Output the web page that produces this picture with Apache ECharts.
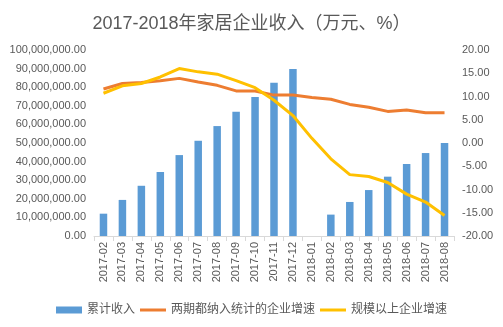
<!DOCTYPE html>
<html>
<head>
<meta charset="utf-8">
<script src="https://cdn.jsdelivr.net/npm/echarts@6/dist/echarts.min.js"></script>
<style>
  html, body { margin: 0; padding: 0; background: #fff; }
  #chart { width: 503px; height: 327px; }
</style>
</head>
<body>
<div id="chart"></div>
<script>
// Monthly categories
var months = ['2017-02','2017-03','2017-04','2017-05','2017-06','2017-07','2017-08','2017-09','2017-10','2017-11','2017-12',
              '2018-01','2018-02','2018-03','2018-04','2018-05','2018-06','2018-07','2018-08'];

// Cumulative revenue (10k CNY); January has no figure
var revenue = [12000000, 19400000, 27000000, 34400000, 43500000, 51200000, 59100000, 66800000, 74700000, 82400000, 89800000,
               null, 11500000, 18300000, 24700000, 31900000, 38700000, 44600000, 50000000];

// Growth of firms counted in both periods (%)
var growthBoth = [11.6, 12.8, 13.0, 13.4, 13.9, 13.1, 12.4, 11.2, 11.2, 10.3, 10.3,
                  9.8, 9.4, 8.3, 7.7, 6.8, 7.1, 6.5, 6.5];

// Growth of firms above designated size (%)
var growthAbove = [10.7, 12.3, 12.8, 14.2, 16.0, 15.3, 14.8, 13.4, 11.9, 9.2, 5.9,
                   1.0, -3.4, -6.8, -7.2, -8.5, -11.0, -12.7, -15.6];

var seriesNames = ['累计收入', '两期都纳入统计的企业增速', '规模以上企业增速'];

var fontFamily = '"Liberation Sans", "Noto Sans CJK SC", sans-serif';
var textColor = '#595959';
var lineIcon = 'path://M0,0H26V3H0Z';

var chart = echarts.init(document.getElementById('chart'), null, { renderer: 'canvas' });

chart.setOption({
  animation: false,
  textStyle: { fontFamily: fontFamily },
  title: {
    text: '2017-2018年家居企业收入（万元、%）',
    left: 'center',
    top: 10,
    textStyle: { fontSize: 18, fontWeight: 'normal', color: textColor, fontFamily: fontFamily }
  },
  legend: {
    bottom: 6,
    left: 'center',
    itemWidth: 26,
    itemHeight: 7,
    itemGap: 5,
    textStyle: { fontSize: 12, color: textColor },
    data: [
      { name: seriesNames[0], icon: 'rect' },
      { name: seriesNames[1], icon: lineIcon },
      { name: seriesNames[2], icon: lineIcon }
    ]
  },
  grid: { left: 94, right: 49, top: 50, bottom: 91, containLabel: false },
  xAxis: {
    type: 'category',
    data: months,
    axisLine: { lineStyle: { color: '#d9d9d9' } },
    axisTick: { show: true, alignWithLabel: false, length: 5, lineStyle: { color: '#d9d9d9' } },
    axisLabel: { rotate: 90, interval: 0, fontSize: 11, color: textColor, margin: 6 }
  },
  yAxis: [
    {
      type: 'value',
      min: 0,
      max: 100000000,
      interval: 10000000,
      splitLine: { show: false },
      axisLine: { show: false },
      axisTick: { show: false },
      axisLabel: {
        fontSize: 11,
        color: textColor,
        margin: 8,
        formatter: function (v) {
          return v.toLocaleString('en-US', { minimumFractionDigits: 2, maximumFractionDigits: 2 });
        }
      }
    },
    {
      type: 'value',
      min: -20,
      max: 20,
      interval: 5,
      splitLine: { show: false },
      axisLine: { show: false },
      axisTick: { show: false },
      axisLabel: {
        fontSize: 11,
        color: textColor,
        margin: 8,
        formatter: function (v) { return v.toFixed(2); }
      }
    }
  ],
  series: [
    {
      name: seriesNames[0],
      type: 'bar',
      data: revenue,
      barWidth: 7.5,
      itemStyle: { color: '#5B9BD5' }
    },
    {
      name: seriesNames[1],
      type: 'line',
      yAxisIndex: 1,
      data: growthBoth,
      symbol: 'none',
      smooth: false,
      lineStyle: { color: '#ED7D31', width: 3 },
      itemStyle: { color: '#ED7D31' }
    },
    {
      name: seriesNames[2],
      type: 'line',
      yAxisIndex: 1,
      data: growthAbove,
      symbol: 'none',
      smooth: false,
      lineStyle: { color: '#FFC000', width: 3 },
      itemStyle: { color: '#FFC000' }
    }
  ]
});
</script>
</body>
</html>
